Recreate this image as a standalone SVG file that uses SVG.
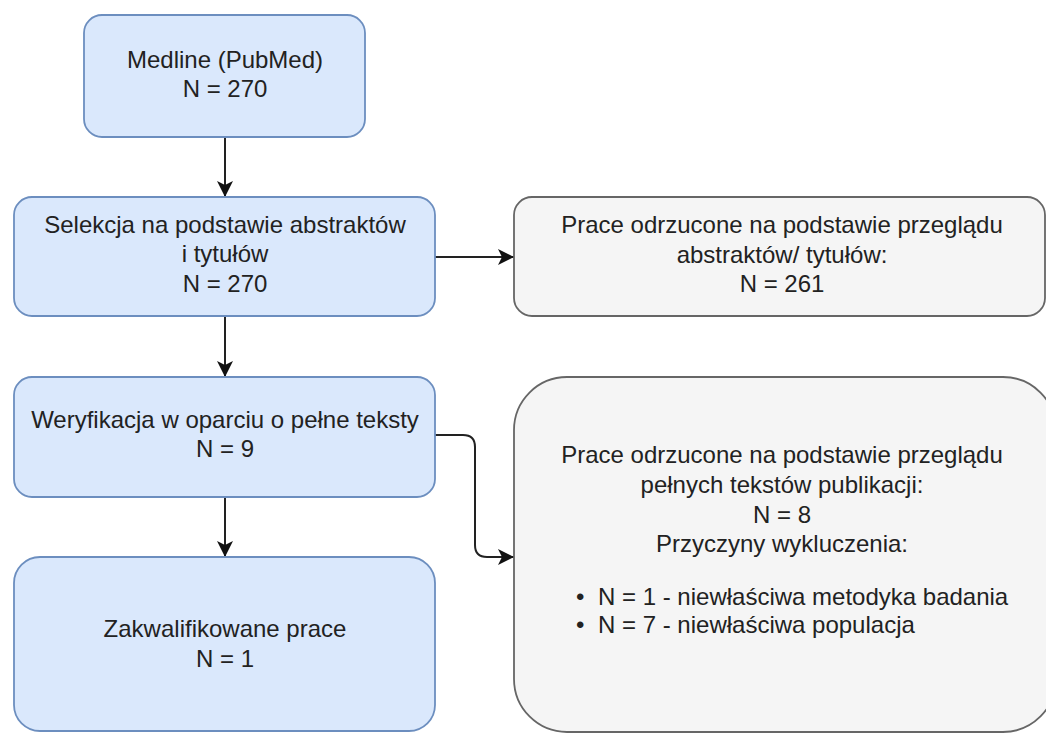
<svg xmlns="http://www.w3.org/2000/svg" width="1046" height="733" viewBox="0 0 1046 733">
  <style>
    .blue { fill: #dae8fc; stroke: #6c8ebf; stroke-width: 1.8; }
    .gray { fill: #f5f5f5; stroke: #666666; stroke-width: 1.8; }
    text { font-family: "Liberation Sans", Arial, sans-serif; font-size: 24px; fill: #222222; }
    .c { text-anchor: middle; }
    .edge { fill: none; stroke: #222222; stroke-width: 2; marker-end: url(#arrow); }
  </style>
  <defs>
    <marker id="arrow" markerUnits="userSpaceOnUse" markerWidth="20" markerHeight="20" refX="16" refY="9" orient="auto">
      <path d="M0,1 L16,9 L0,17 L4,9 Z" fill="#111111"/>
    </marker>
  </defs>
  <rect width="1046" height="733" fill="#ffffff"/>

  <g id="connectors">
    <path class="edge" d="M225,137 L225,197"/>
    <path class="edge" d="M435,257 L514,257"/>
    <path class="edge" d="M225,316 L225,377"/>
    <path class="edge" d="M225,497 L225,557"/>
    <path class="edge" d="M435,435 L463,435 Q475,435 475,447 L475,545 Q475,557 487,557 L514,557"/>
  </g>

  <g id="medline">
    <rect class="blue" x="84" y="15" width="281" height="122" rx="18"/>
    <text class="c" x="225" y="68">Medline (PubMed)</text>
    <text class="c" x="225" y="97">N = 270</text>
  </g>

  <g id="selekcja">
    <rect class="blue" x="14" y="197" width="421" height="119" rx="18"/>
    <text class="c" x="225" y="233">Selekcja na podstawie abstraktów</text>
    <text class="c" x="225" y="262">i tytułów</text>
    <text class="c" x="225" y="292">N = 270</text>
  </g>

  <g id="odrzucone1">
    <rect class="gray" x="514" y="197" width="531" height="119" rx="18"/>
    <text class="c" x="782" y="233">Prace odrzucone na podstawie przeglądu</text>
    <text class="c" x="782" y="263">abstraktów/ tytułów:</text>
    <text class="c" x="782" y="292">N = 261</text>
  </g>

  <g id="weryfikacja">
    <rect class="blue" x="14" y="377" width="421" height="120" rx="18"/>
    <text class="c" x="225" y="428">Weryfikacja w oparciu o pełne teksty</text>
    <text class="c" x="225" y="457">N = 9</text>
  </g>

  <g id="zakwalifikowane">
    <rect class="blue" x="14" y="557" width="421" height="174" rx="26"/>
    <text class="c" x="225" y="637">Zakwalifikowane prace</text>
    <text class="c" x="225" y="667">N = 1</text>
  </g>

  <g id="odrzucone2">
    <rect class="gray" x="514" y="377" width="542" height="355" rx="53"/>
    <text class="c" x="782" y="463">Prace odrzucone na podstawie przeglądu</text>
    <text class="c" x="782" y="493">pełnych tekstów publikacji:</text>
    <text class="c" x="782" y="523">N = 8</text>
    <text class="c" x="782" y="552">Przyczyny wykluczenia:</text>
    <text x="576" y="605">•</text>
    <text x="598" y="605">N = 1 - niewłaściwa metodyka badania</text>
    <text x="576" y="633">•</text>
    <text x="598" y="633">N = 7 - niewłaściwa populacja</text>
  </g>
</svg>
